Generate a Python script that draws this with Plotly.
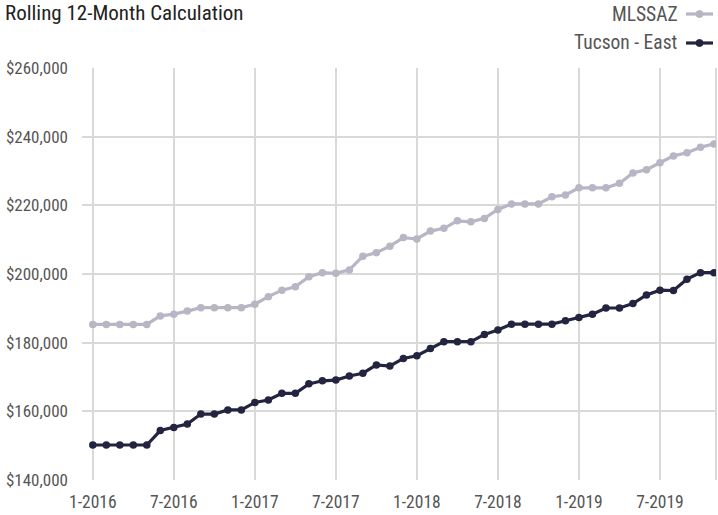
import plotly.graph_objects as go

months = [f"{m}-{y}" for y in (2016, 2017, 2018, 2019) for m in range(1, 13)][:47]
tick_labels = ["1-2016", "7-2016", "1-2017", "7-2017", "1-2018", "7-2018", "1-2019", "7-2019"]

mlssaz = [185300, 185300, 185300, 185300, 185300, 187800, 188300, 189200, 190200, 190200, 190200, 190200,
          191200, 193400, 195300, 196300, 199200, 200400, 200200, 201200, 205200, 206200, 208100, 210600,
          210200, 212500, 213300, 215500, 215200, 216200, 218800, 220400, 220400, 220400, 222500, 223000,
          225100, 225100, 225100, 226400, 229400, 230400, 232400, 234400, 235300, 236900, 237900]
tucson_east = [150200, 150200, 150200, 150200, 150200, 154400, 155300, 156300, 159200, 159200, 160400, 160400,
               162600, 163300, 165250, 165250, 168000, 168900, 169100, 170300, 171100, 173500, 173200, 175400,
               176200, 178300, 180300, 180300, 180300, 182400, 183700, 185400, 185400, 185400, 185400, 186400,
               187300, 188300, 190100, 190100, 191400, 193900, 195300, 195200, 198500, 200400, 200400]

series_names = ["MLSSAZ", "Tucson - East"]
series_colors = ["#b6b6c4", "#23243f"]

x_idx = list(range(len(months)))
tick_vals = [months.index(t) for t in tick_labels]

FONT = "Roboto Condensed, Liberation Sans Narrow, DejaVu Sans Condensed, Arial Narrow, sans-serif"

fig = go.Figure()
for name, vals, col in zip(series_names, [mlssaz, tucson_east], series_colors):
    fig.add_trace(go.Scatter(
        x=x_idx, y=vals, name=name, mode="lines+markers",
        line=dict(color=col, width=3.2), marker=dict(color=col, size=7.5),
        showlegend=False, customdata=months,
        hovertemplate="%{customdata}: $%{y:,.0f}<extra>" + name + "</extra>",
    ))

W, H = 718, 515
ml, mr, mt, mb = 82, 2, 68, 35
pw, ph = W - ml - mr, H - mt - mb

def px_x(p):
    return (p - ml) / pw

def px_y(p):
    return (H - mb - p) / ph

shapes = []
annotations = []
leg_y = [14, 43]
for name, col, yy in zip(series_names, series_colors, leg_y):
    annotations.append(dict(xref="paper", yref="paper", x=px_x(680), y=px_y(yy), xanchor="right", yanchor="middle",
                            text=name, showarrow=False, font=dict(family=FONT, size=19.5, color="#555555")))
    shapes.append(dict(type="line", xref="paper", yref="paper", x0=px_x(686), x1=px_x(713),
                       y0=px_y(yy), y1=px_y(yy), line=dict(color=col, width=3.2)))
    shapes.append(dict(type="circle", xref="paper", yref="paper", x0=px_x(696), x1=px_x(703),
                       y0=px_y(yy + 3.5), y1=px_y(yy - 3.5), fillcolor=col, line=dict(color=col, width=1)))

# right border line
shapes.append(dict(type="line", xref="paper", yref="paper", x0=1, x1=1, y0=0, y1=1,
                   line=dict(color="#d9d9d9", width=2), layer="below"))

annotations.append(dict(xref="paper", yref="paper", x=px_x(3), y=px_y(13), xanchor="left", yanchor="middle",
                        text="Rolling 12-Month Calculation", showarrow=False,
                        font=dict(family=FONT, size=21, color="#222222")))

fig.update_layout(
    width=W, height=H,
    margin=dict(l=ml, r=mr, t=mt, b=mb),
    paper_bgcolor="white", plot_bgcolor="white",
    font=dict(family=FONT, color="#555555"),
    shapes=shapes, annotations=annotations,
    xaxis=dict(range=[-0.8, 46.15], tickmode="array", tickvals=tick_vals, ticktext=tick_labels,
               showgrid=True, gridcolor="#d9d9d9", gridwidth=2, zeroline=False, showline=False,
               tickfont=dict(family=FONT, size=17.5, color="#555555"), ticks="", ticklabelstandoff=9),
    yaxis=dict(range=[140000, 260000], tickmode="array", tickvals=list(range(140000, 260001, 20000)),
               tickformat="$,.0f", showgrid=True, gridcolor="#d9d9d9", gridwidth=2, zeroline=False,
               showline=False, tickfont=dict(family=FONT, size=17, color="#555555"), ticks="",
               ticklabelstandoff=13),
)

fig.write_html("out.html", config={"displayModeBar": False},
               post_script="document.body.style.margin='0';document.body.style.padding='0';")
